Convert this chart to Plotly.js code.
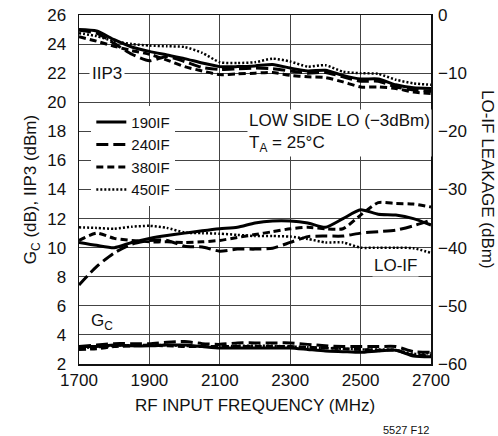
<!DOCTYPE html>
<html><head><meta charset="utf-8">
<script src="https://cdn.plot.ly/plotly-3.0.1.min.js"></script>
<style>html,body{margin:0;padding:0;background:#fff}</style>
</head><body>
<div id="chart" style="width:498px;height:436px"></div>
<script>
var freq = [1700,1750,1800,1850,1900,1950,2000,2050,2100,2150,2200,2250,2300,2350,2400,2450,2500,2550,2600,2650,2700];
var seriesNames = ['190IF','240IF','380IF','450IF'];
var iip3_190 = [25.0,24.9,24.3,23.8,23.5,23.25,23.0,22.7,22.45,22.45,22.5,22.6,22.35,22.15,22.2,21.85,21.6,21.6,21.2,21.0,20.95];
var iip3_240 = [24.95,24.75,24.05,23.3,22.85,23.15,22.8,22.4,22.25,22.3,22.35,22.3,22.15,22.0,22.05,21.75,21.45,21.45,21.05,20.85,20.75];
var iip3_380 = [24.5,24.2,23.85,23.55,23.3,22.9,22.45,22.15,21.9,21.95,22.0,22.05,21.85,21.75,21.7,21.4,21.05,21.05,20.95,20.7,20.6];
var iip3_450 = [24.75,24.55,24.2,24.0,23.9,23.85,23.8,23.4,22.75,22.7,22.75,23.0,22.8,22.45,22.55,22.1,22.0,21.95,21.55,21.3,21.2];
var loif_190 = [-39.1,-39.6,-40.0,-39.1,-38.4,-37.9,-37.5,-37.1,-36.75,-36.5,-35.75,-35.4,-35.4,-35.75,-36.5,-35.0,-33.5,-34.25,-34.4,-35.0,-36.1];
var loif_240 = [-46.4,-43.25,-40.9,-39.4,-38.75,-38.75,-39.75,-39.9,-40.6,-40.25,-40.25,-40.1,-39.1,-38.1,-38.0,-38.0,-37.5,-37.25,-37.0,-36.25,-35.25];
var loif_380 = [-38.75,-37.5,-38.4,-38.75,-39.0,-39.0,-39.1,-39.0,-38.75,-38.25,-37.75,-37.25,-36.75,-36.5,-36.75,-36.75,-34.4,-32.25,-32.4,-32.5,-33.0];
var loif_450 = [-36.5,-36.6,-36.75,-36.4,-36.25,-36.6,-37.4,-37.5,-37.6,-37.8,-38.0,-38.0,-38.1,-38.5,-39.1,-39.1,-40.0,-40.0,-40.0,-40.1,-40.9];
var gc_190 = [3.2,3.2,3.3,3.25,3.25,3.3,3.3,3.2,3.1,3.1,3.1,3.1,3.1,3.0,2.9,2.85,2.8,2.9,2.95,2.55,2.5];
var gc_240 = [3.2,3.3,3.4,3.4,3.4,3.5,3.55,3.4,3.35,3.45,3.45,3.45,3.45,3.35,3.25,3.2,3.2,3.2,3.2,2.85,2.8];
var gc_380 = [3.0,3.05,3.2,3.25,3.3,3.25,3.2,3.2,3.2,3.2,3.2,3.2,3.2,3.15,3.1,3.05,3.0,2.95,2.95,2.6,2.6];
var gc_450 = [3.1,3.15,3.25,3.3,3.3,3.3,3.25,3.2,3.2,3.25,3.25,3.25,3.2,3.15,3.1,3.05,3.0,3.0,2.95,2.7,2.75];

var FONT = '"Liberation Sans", Arial, sans-serif';
var styles = [
  {dash:'solid', width:3},
  {dash:'12px,5px', width:3},
  {dash:'7px,4px', width:3},
  {dash:'2px,2px', width:2.5}
];
var iip3 = [iip3_190,iip3_240,iip3_380,iip3_450];
var loif = [loif_190,loif_240,loif_380,loif_450];
var gc = [gc_190,gc_240,gc_380,gc_450];
var traces = [];
for (var i=0;i<4;i++){
  var ln = {color:'#000', width:styles[i].width, dash:styles[i].dash, shape:'spline', smoothing:0.6};
  traces.push({x:freq, y:iip3[i], mode:'lines', name:seriesNames[i], legendgroup:seriesNames[i], showlegend:true, line:ln, yaxis:'y'});
  traces.push({x:freq, y:gc[i], mode:'lines', name:seriesNames[i], legendgroup:seriesNames[i], showlegend:false, line:ln, yaxis:'y'});
  traces.push({x:freq, y:loif[i], mode:'lines', name:seriesNames[i], legendgroup:seriesNames[i], showlegend:false, line:ln, yaxis:'y2'});
}
var layout = {
  width:498, height:436,
  margin:{l:79, r:67, t:15, b:72},
  paper_bgcolor:'#fff', plot_bgcolor:'#fff',
  font:{family:FONT, size:17, color:'#111'},
  showlegend:true,
  legend:{x:0.035, y:0.74, xanchor:'left', yanchor:'top', bgcolor:'#fff', borderwidth:0,
          font:{family:FONT, size:15, color:'#111'}, tracegroupgap:0, itemwidth:30},
  xaxis:{range:[1700,2700], tick0:1700, dtick:200, showgrid:true, gridcolor:'#444', gridwidth:1,
         showline:true, mirror:true, linecolor:'#111', linewidth:1.5, ticks:'', zeroline:false,
         tickfont:{size:17}, title:{text:'RF INPUT FREQUENCY (MHz)', font:{size:17}, standoff:10}},
  yaxis:{range:[2,26], tick0:2, dtick:2, showgrid:true, gridcolor:'#444', gridwidth:1,
         showline:true, mirror:true, linecolor:'#111', linewidth:1.5, ticks:'', zeroline:false,
         tickfont:{size:17}, ticklabelstandoff:8,
         title:{text:'G<sub>C</sub> (dB), IIP3 (dBm)', font:{size:17}, standoff:6}},
  yaxis2:{range:[-60,0], tick0:-60, dtick:10, overlaying:'y', side:'right', showgrid:false,
          showline:false, ticks:'', zeroline:false, tickfont:{size:17}, ticklabelstandoff:6},
  annotations:[
    {xref:'x', yref:'y', x:1780, y:22, text:'IIP3', showarrow:false, bgcolor:'#fff', font:{size:17}, borderpad:2},
    {xref:'x', yref:'y', x:2598, y:8.8, text:'LO-IF', showarrow:false, bgcolor:'#fff', font:{size:17}},
    {xref:'x', yref:'y', x:1765, y:4.9, text:'G<sub>C</sub>', showarrow:false, font:{size:17}},
    {xref:'x', yref:'y', x:2178, y:17.9, xanchor:'left', yanchor:'middle', align:'left',
     text:'LOW SIDE LO (\u22123dBm)<br>T<sub>A</sub> = 25\u00b0C', showarrow:false, bgcolor:'#fff', font:{size:17}},
    {xref:'paper', yref:'paper', x:1.162, y:0.53, xanchor:'center', yanchor:'middle', textangle:90,
     text:'LO-IF LEAKAGE (dBm)', showarrow:false, font:{size:17}},
    {xref:'paper', yref:'paper', x:1.0, y:-0.165, xanchor:'right', yanchor:'top',
     text:'5527 F12', showarrow:false, font:{size:11}}
  ]
};
Plotly.newPlot('chart', traces, layout, {displayModeBar:false, staticPlot:true});
</script>
</body></html>
